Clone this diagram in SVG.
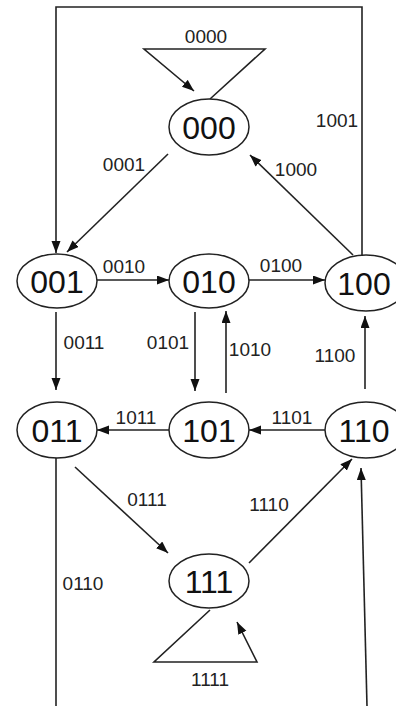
<svg xmlns="http://www.w3.org/2000/svg" width="396" height="706" viewBox="0 0 396 706">
<style>
.node ellipse{fill:#fff;stroke:#222;stroke-width:1.5}
.node text{font-family:"Liberation Sans",Arial,sans-serif;font-size:32px;fill:#111;text-anchor:middle}
.edges path{fill:none;stroke:#222;stroke-width:1.6}
.lbl{font-family:"Liberation Sans",Arial,sans-serif;font-size:19px;fill:#222;text-anchor:middle}
</style>
<defs>
<marker id="arr" markerUnits="userSpaceOnUse" markerWidth="13" markerHeight="10" refX="12" refY="4.5" orient="auto">
<path d="M0,0 L12,4.5 L0,9 z" fill="#111"/>
</marker>
</defs>
<rect width="396" height="706" fill="#fff"/>
<g class="edges">
<path d="M362,255 V7 H56 V253" marker-end="url(#arr)"/>
<path d="M210,99 L265,49 L144,49 L194,91" marker-end="url(#arr)"/>
<path d="M168,154 L67,252" marker-end="url(#arr)"/>
<path d="M353,255 L250,155" marker-end="url(#arr)"/>
<path d="M97,280 L169,280" marker-end="url(#arr)"/>
<path d="M249,280 L325,280" marker-end="url(#arr)"/>
<path d="M56,312 L56,390" marker-end="url(#arr)"/>
<path d="M195,312 L195,391" marker-end="url(#arr)"/>
<path d="M226,393 L226,311" marker-end="url(#arr)"/>
<path d="M365,389 L365,316" marker-end="url(#arr)"/>
<path d="M169,430 L97,430" marker-end="url(#arr)"/>
<path d="M325,430 L249,430" marker-end="url(#arr)"/>
<path d="M75,467 L168,553" marker-end="url(#arr)"/>
<path d="M249,563 L352,459" marker-end="url(#arr)"/>
<path d="M210,610 L154,662 L257,662 L237,622" marker-end="url(#arr)"/>
<path d="M56,458 V706"/>
<path d="M367,706 L361,468" marker-end="url(#arr)"/>
<text class="lbl" x="206" y="43">0000</text>
<text class="lbl" x="337" y="127">1001</text>
<text class="lbl" x="124" y="171">0001</text>
<text class="lbl" x="296" y="176">1000</text>
<text class="lbl" x="124" y="273">0010</text>
<text class="lbl" x="281" y="272">0100</text>
<text class="lbl" x="84" y="349">0011</text>
<text class="lbl" x="168" y="349">0101</text>
<text class="lbl" x="250" y="356">1010</text>
<text class="lbl" x="335" y="362">1100</text>
<text class="lbl" x="136" y="424">1011</text>
<text class="lbl" x="292" y="424">1101</text>
<text class="lbl" x="147" y="506">0111</text>
<text class="lbl" x="269" y="511">1110</text>
<text class="lbl" x="83" y="590">0110</text>
<text class="lbl" x="210" y="686">1111</text>
</g>
<g id="n000" class="node"><ellipse cx="209" cy="127" rx="40" ry="28"/><text x="209" y="139">000</text></g>
<g id="n001" class="node"><ellipse cx="57" cy="281" rx="40" ry="27"/><text x="57" y="293">001</text></g>
<g id="n010" class="node"><ellipse cx="209" cy="281" rx="40" ry="27"/><text x="209" y="293">010</text></g>
<g id="n100" class="node"><ellipse cx="366" cy="283" rx="41" ry="28"/><text x="364" y="295">100</text></g>
<g id="n011" class="node"><ellipse cx="57" cy="430" rx="40" ry="28"/><text x="57" y="442">011</text></g>
<g id="n101" class="node"><ellipse cx="209" cy="430" rx="40" ry="28"/><text x="209" y="442">101</text></g>
<g id="n110" class="node"><ellipse cx="366" cy="430" rx="41" ry="28"/><text x="364" y="442">110</text></g>
<g id="n111" class="node"><ellipse cx="209" cy="581" rx="40" ry="27"/><text x="209" y="593">111</text></g>
</svg>
